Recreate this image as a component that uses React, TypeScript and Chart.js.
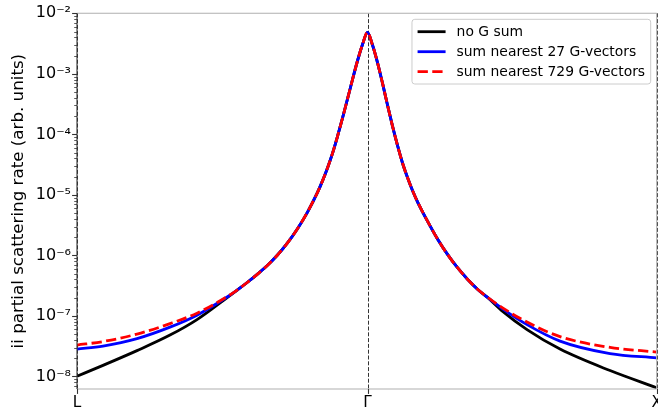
import React, { useEffect, useRef } from 'react';
import { Chart, registerables } from 'chart.js';

Chart.register(...registerables);

// path coordinate along L -> Γ -> X (Γ at 1.0)
const kPath = [
  0, 0.0895, 0.2065, 0.3201, 0.4131,
  0.5181, 0.5525, 0.5869, 0.6213, 0.6558, 0.6902, 0.7246, 0.759, 0.7935, 0.8279, 0.8451, 0.8623, 0.8795, 0.8967, 0.9139, 0.9312, 0.9484, 0.9656, 0.9828,
  1.0,
  1.0172, 1.0344, 1.0516, 1.0688, 1.0861, 1.1033, 1.1205, 1.1377, 1.1549, 1.1721, 1.2065, 1.241, 1.2754, 1.3098, 1.3442, 1.3787, 1.4131,
  1.4664, 1.5491, 1.6627, 1.8348, 1.9955,
];

// part of the curve where the three series coincide (between the tails)
const coreLeft = [
  2.70e-7, 3.60e-7, 4.91e-7, 6.85e-7, 1.014e-6, 1.607e-6, 2.76e-6, 5.20e-6, 1.099e-5, 1.702e-5, 2.79e-5, 4.85e-5, 9.25e-5, 1.845e-4, 3.855e-4, 8.05e-4, 1.644e-3, 3.06e-3,
];
const peakValue = [4.853e-3];
const coreRight = [
  2.99e-3, 1.535e-3, 7.01e-4, 3.06e-4, 1.368e-4, 6.55e-5, 3.36e-5, 1.932e-5, 1.178e-5, 7.69e-6, 3.68e-6, 1.866e-6, 1.038e-6, 6.25e-7, 4.04e-7, 2.76e-7,
];

// tails near L and X where the series differ
const noGSumLeft = [1.008e-8, 1.524e-8, 2.67e-8, 4.82e-8, 8.69e-8, 2.03e-7];
const noGSumRight = [2.02e-7, 1.178e-7, 5.94e-8, 2.83e-8, 1.25e-8, 6.49e-9];
const sum27Left = [2.83e-8, 3.18e-8, 4.22e-8, 6.53e-8, 1.03e-7, 2.07e-7];
const sum27Right = [2.02e-7, 1.295e-7, 7.18e-8, 3.84e-8, 2.39e-8, 2.03e-8];
const sum729Left = [3.30e-8, 3.77e-8, 5.01e-8, 7.46e-8, 1.11e-7, 2.10e-7];
const sum729Right = [2.04e-7, 1.345e-7, 7.91e-8, 4.55e-8, 3.02e-8, 2.53e-8];

const seriesLabels = ['no G sum', 'sum nearest 27 G-vectors', 'sum nearest 729 G-vectors'];
const seriesColors = ['#000000', '#0000ff', '#ff0000'];
const tickPositions = [0, 1.0, 1.9955];
const tickLabels = ['L', 'Γ', 'X'];
const yMin = 6.2e-9;
const yMax = 1e-2;
const yAxisTitle = 'ii partial scattering rate (arb. units)';

const FONT = '"DejaVu Sans", "Liberation Sans", sans-serif';

const SUP: Record<string, string> = {
  '-': '\u207B', '0': '\u2070', '1': '\u00B9', '2': '\u00B2', '3': '\u00B3', '4': '\u2074',
  '5': '\u2075', '6': '\u2076', '7': '\u2077', '8': '\u2078', '9': '\u2079',
};
const sup = (n: number) => String(n).split('').map((c) => SUP[c] || c).join('');

const framePlugin = {
  id: 'mplFrame',
  beforeDatasetsDraw(chart: any) {
    const { ctx, chartArea, scales } = chart;
    ctx.save();
    ctx.strokeStyle = '#000';
    ctx.lineWidth = 0.8;
    ctx.setLineDash([4, 1.8]);
    tickPositions.forEach((p) => {
      const x = Math.round(scales.x.getPixelForValue(p)) + 0.5;
      ctx.beginPath();
      ctx.moveTo(x, chartArea.top);
      ctx.lineTo(x, chartArea.bottom);
      ctx.stroke();
    });
    ctx.restore();
  },
  afterDatasetsDraw(chart: any) {
    const { ctx, chartArea, scales } = chart;
    const { left, right, top, bottom } = chartArea;
    ctx.save();
    ctx.setLineDash([]);
    ctx.lineWidth = 1.1;
    ctx.strokeStyle = '#b0b0b0';
    ctx.beginPath();
    ctx.moveTo(left, top); ctx.lineTo(right, top);
    ctx.moveTo(left, bottom); ctx.lineTo(right, bottom);
    ctx.moveTo(right, top); ctx.lineTo(right, bottom);
    ctx.stroke();
    ctx.strokeStyle = '#333';
    ctx.beginPath();
    ctx.moveTo(left, top); ctx.lineTo(left, bottom);
    ctx.stroke();
    const y = scales.y;
    for (let e = -9; e <= -2; e++) {
      for (let s = 1; s <= 9; s++) {
        const v = s * Math.pow(10, e);
        if (v < yMin || v > yMax * 1.0000001) continue;
        const py = Math.round(y.getPixelForValue(v)) + 0.5;
        const len = s === 1 ? 4.9 : 2.8;
        ctx.lineWidth = s === 1 ? 1.1 : 0.8;
        ctx.beginPath();
        ctx.moveTo(left - len, py);
        ctx.lineTo(left, py);
        ctx.stroke();
      }
    }
    ctx.lineWidth = 1.1;
    tickPositions.forEach((p) => {
      const x = Math.round(scales.x.getPixelForValue(p)) + 0.5;
      ctx.beginPath();
      ctx.moveTo(x, bottom);
      ctx.lineTo(x, bottom + 4.9);
      ctx.stroke();
    });
    ctx.restore();
  },
};

const legendPlugin = {
  id: 'mplLegend',
  afterDraw(chart: any) {
    const { ctx, chartArea } = chart;
    const fs = 13.9;
    const ds = chart.data.datasets;
    ctx.save();
    ctx.font = `${fs}px ${FONT}`;
    const textW = Math.max(...ds.map((d: any) => ctx.measureText(d.label).width));
    const pad = 5.6;
    const handle = 28;
    const tpad = 11;
    const rowH = 20;
    const w = pad + handle + tpad + textW + pad;
    const h = 64.7;
    const x0 = chartArea.right - 6 - w;
    const y0 = chartArea.top + 6;
    const r = 2.8;
    ctx.beginPath();
    ctx.moveTo(x0 + r, y0);
    ctx.lineTo(x0 + w - r, y0);
    ctx.quadraticCurveTo(x0 + w, y0, x0 + w, y0 + r);
    ctx.lineTo(x0 + w, y0 + h - r);
    ctx.quadraticCurveTo(x0 + w, y0 + h, x0 + w - r, y0 + h);
    ctx.lineTo(x0 + r, y0 + h);
    ctx.quadraticCurveTo(x0, y0 + h, x0, y0 + h - r);
    ctx.lineTo(x0, y0 + r);
    ctx.quadraticCurveTo(x0, y0, x0 + r, y0);
    ctx.closePath();
    ctx.fillStyle = 'rgba(255,255,255,0.8)';
    ctx.fill();
    ctx.strokeStyle = '#cccccc';
    ctx.lineWidth = 1;
    ctx.stroke();
    ds.forEach((d: any, i: number) => {
      const cy = y0 + 12.4 + i * rowH;
      ctx.save();
      ctx.strokeStyle = d.borderColor;
      ctx.lineWidth = d.borderWidth;
      ctx.setLineDash(d.borderDash || []);
      ctx.beginPath();
      ctx.moveTo(x0 + pad, cy);
      ctx.lineTo(x0 + pad + handle, cy);
      ctx.stroke();
      ctx.restore();
      ctx.fillStyle = '#000';
      ctx.textBaseline = 'middle';
      ctx.textAlign = 'left';
      ctx.fillText(d.label, x0 + pad + handle + tpad, cy + 0.5);
    });
    ctx.restore();
  },
};

export default function App() {
  const canvasRef = useRef<HTMLCanvasElement | null>(null);

  useEffect(() => {
    if (!canvasRef.current) return;
    const build = (l: number[], r: number[]) => [...l, ...coreLeft, ...peakValue, ...coreRight, ...r];
    const series = [
      build(noGSumLeft, noGSumRight),
      build(sum27Left, sum27Right),
      build(sum729Left, sum729Right),
    ];
    const mk = (arr: number[]) => kPath.map((x, i) => ({ x, y: arr[i] }));
    const common = { borderWidth: 2.8, pointRadius: 0, cubicInterpolationMode: 'monotone' };
    const chart = new Chart(canvasRef.current, {
      type: 'line',
      data: {
        datasets: [
          { ...common, label: seriesLabels[0], data: mk(series[0]), borderColor: seriesColors[0], order: 2 },
          { ...common, label: seriesLabels[1], data: mk(series[1]), borderColor: seriesColors[1], order: 1 },
          { ...common, label: seriesLabels[2], data: mk(series[2]), borderColor: seriesColors[2], borderDash: [10.3, 4.4], order: 0 },
        ],
      },
      options: {
        animation: false,
        responsive: true,
        maintainAspectRatio: false,
        devicePixelRatio: 1,
        layout: { padding: { top: 13.3, right: 1.3, left: 0, bottom: 0 } },
        plugins: { legend: { display: false }, tooltip: { enabled: false } },
        scales: {
          x: {
            type: 'linear',
            min: tickPositions[0],
            max: tickPositions[tickPositions.length - 1],
            grid: { display: true, drawOnChartArea: false, drawTicks: false },
            border: { display: false },
            afterBuildTicks: (s: any) => {
              s.ticks = tickPositions.map((v) => ({ value: v }));
            },
            afterFit: (s: any) => {
              s.height = 26;
              s.paddingLeft = 0;
              s.paddingRight = 0;
            },
            ticks: {
              autoSkip: false,
              maxRotation: 0,
              padding: 5,
              color: '#000',
              font: { family: FONT, size: 15.3 },
              callback: (v: any) => {
                const i = tickPositions.findIndex((p) => Math.abs(p - Number(v)) < 1e-6);
                return i >= 0 ? tickLabels[i] : '';
              },
            },
          },
          y: {
            type: 'logarithmic',
            min: yMin,
            max: yMax,
            grid: { display: true, drawOnChartArea: false, drawTicks: false },
            border: { display: false },
            afterFit: (s: any) => {
              s.width = 77;
              s.paddingTop = 0;
              s.paddingBottom = 0;
            },
            title: {
              display: true,
              text: yAxisTitle,
              color: '#000',
              font: { family: FONT, size: 16.7, lineHeight: 1.2 },
              padding: { top: 9, bottom: 0 },
            },
            ticks: {
              autoSkip: false,
              padding: 6,
              color: '#000',
              font: { family: FONT, size: 16 },
              callback: (v: any) => {
                const e = Math.log10(Number(v));
                const r = Math.round(e);
                return Math.abs(e - r) < 1e-6 ? '10' + sup(r) : '';
              },
            },
          },
        },
      },
      plugins: [framePlugin, legendPlugin],
    } as any);
    return () => chart.destroy();
  }, []);

  return (
    <div style={{ position: 'absolute', left: 0, top: 0, width: 658, height: 415 }}>
      <canvas ref={canvasRef} />
    </div>
  );
}
